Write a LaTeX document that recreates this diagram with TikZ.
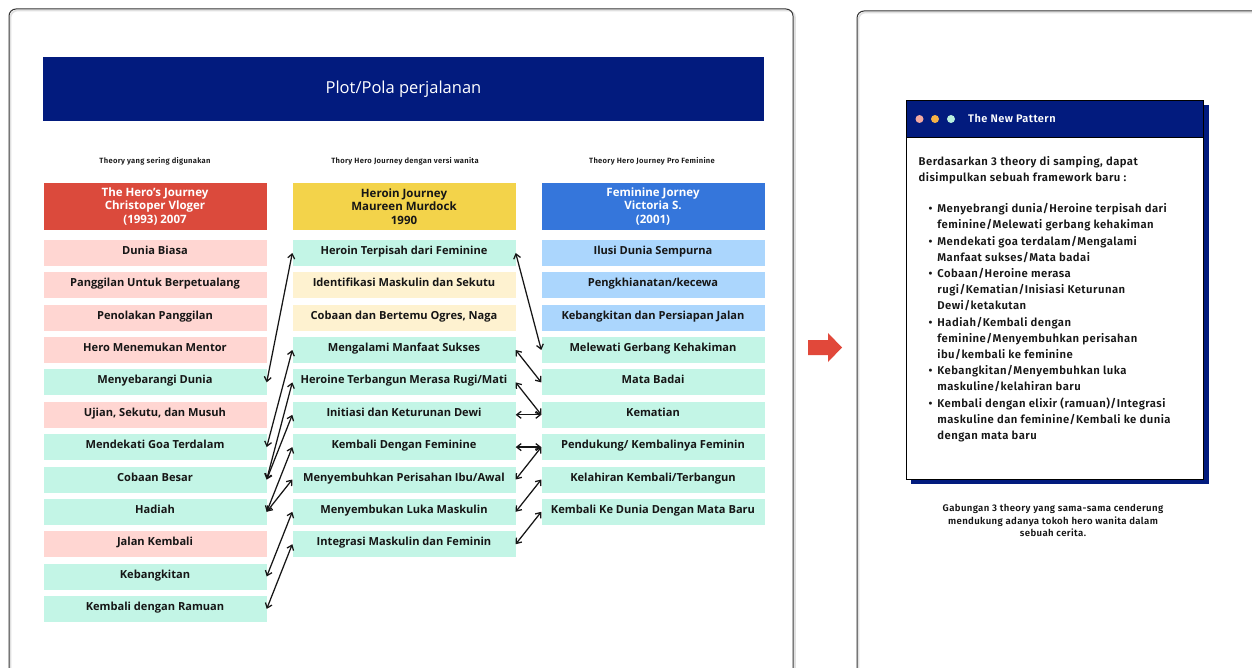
\documentclass[tikz,border=0pt]{standalone}
\usepackage{fontspec}
\setmainfont{Open Sans}
\newfontfamily\cardfont{Fira Sans SemiBold}[LetterSpace=4]
\usepackage{tikz}
\usetikzlibrary{arrows.meta}
\definecolor{plotNavy}{HTML}{021B7E}
\definecolor{heroRed}{HTML}{DB4A3C}
\definecolor{heroinYellow}{HTML}{F3D34A}
\definecolor{femiBlue}{HTML}{3576DB}
\definecolor{rowPink}{HTML}{FFD6D2}
\definecolor{rowMint}{HTML}{C3F5E6}
\definecolor{rowCream}{HTML}{FEF2D0}
\definecolor{rowSky}{HTML}{ABD6FD}
\definecolor{arrowRed}{HTML}{E1483A}
\definecolor{dotPink}{HTML}{F4A9A1}
\definecolor{dotOrange}{HTML}{F6B246}
\definecolor{dotMint}{HTML}{B9F0DE}
\definecolor{inkDark}{HTML}{161616}
\newcommand{\cardBullet}{\makebox[18.7pt][l]{\hspace{10pt}\textbullet}}
\newcommand{\cardIndent}{\hspace*{18.7pt}}
\tikzset{
  stage/.style={minimum width=223pt, minimum height=26pt, inner sep=0pt, text height=6.5pt, text depth=3.5pt, text=inkDark, font=\bfseries\fontsize{11.1}{12}\selectfont},
  pinkRow/.style={stage, fill=rowPink},
  mintRow/.style={stage, fill=rowMint},
  creamRow/.style={stage, fill=rowCream},
  skyRow/.style={stage, fill=rowSky},
  theoryHead/.style={minimum width=223pt, minimum height=47pt, inner sep=0pt, align=center, text=white, font=\bfseries\fontsize{11.5}{13.3}\selectfont},
  theoryNote/.style={text=inkDark, font=\cardfont\fontsize{7.6}{8}\selectfont},
  link/.style={{Straight Barb[length=4.5pt,width=7pt]}-{Straight Barb[length=4.5pt,width=7pt]}, line width=1.25pt, draw=inkDark},
}
\begin{document}
\begin{tikzpicture}[x=1pt, y=-1pt]
\useasboundingbox (0,0) rectangle (1252,668);
\fill[white] (0,0) rectangle (1252,668);
\clip (0,0) rectangle (1252,668);
% the two panels
\draw[rounded corners=7pt, line width=1.6pt, draw=black!12] (10.5,10.5) rectangle (795,720);
\draw[rounded corners=7pt, line width=1pt, draw=black!80] (9,9) rectangle (793,720);
\draw[rounded corners=7pt, line width=1.6pt, draw=black!12] (858.5,12.5) rectangle (1300,720);
\draw[rounded corners=7pt, line width=1pt, draw=black!80] (857,11) rectangle (1300,720);
\node[fill=plotNavy, minimum width=721pt, minimum height=64pt, inner sep=0pt, text=white, font=\fontsize{16.5}{18}\selectfont] (PlotBanner) at (403.5,89) {Plot/Pola perjalanan};
% theory columns
\node[theoryNote] (HeroNote) at (155,161) {Theory yang sering digunakan};
\node[theoryNote] (HeroinNote) at (405,161) {Thory Hero Journey dengan versi wanita};
\node[theoryNote] (FemiNote) at (652,161.5) {Theory Hero Journey Pro Feminine};
\node[theoryHead, fill=heroRed] (HeroHead) at (155,206.5) {The Hero's Journey\\Christoper Vloger\\(1993) 2007};
\node[theoryHead, fill=heroinYellow, text=inkDark] (HeroinHead) at (404,206.5) {Heroin Journey\\Maureen Murdock\\1990};
\node[theoryHead, fill=femiBlue] (FemiHead) at (653,206.5) {Feminine Jorney\\Victoria S.\\(2001)};
\node[pinkRow] (Hero1) at (155,253) {Dunia Biasa};
\node[pinkRow] (Hero2) at (155,285.4) {Panggilan Untuk Berpetualang};
\node[pinkRow] (Hero3) at (155,317.7) {Penolakan Panggilan};
\node[pinkRow] (Hero4) at (155,350) {Hero Menemukan Mentor};
\node[mintRow] (Hero5) at (155,382.4) {Menyebarangi Dunia};
\node[pinkRow] (Hero6) at (155,414.8) {Ujian, Sekutu, dan Musuh};
\node[mintRow] (Hero7) at (155,447.1) {Mendekati Goa Terdalam};
\node[mintRow] (Hero8) at (155,479.5) {Cobaan Besar};
\node[mintRow] (Hero9) at (155,511.8) {Hadiah};
\node[pinkRow] (Hero10) at (155,544.2) {Jalan Kembali};
\node[mintRow] (Hero11) at (155,576.5) {Kebangkitan};
\node[mintRow] (Hero12) at (155,608.9) {Kembali dengan Ramuan};
\node[mintRow] (Heroin1) at (404,253) {Heroin Terpisah dari Feminine};
\node[creamRow] (Heroin2) at (404,285.4) {Identifikasi Maskulin dan Sekutu};
\node[creamRow] (Heroin3) at (404,317.7) {Cobaan dan Bertemu Ogres, Naga};
\node[mintRow] (Heroin4) at (404,350) {Mengalami Manfaat Sukses};
\node[mintRow] (Heroin5) at (404,382.4) {Heroine Terbangun Merasa Rugi/Mati};
\node[mintRow] (Heroin6) at (404,414.8) {Initiasi dan Keturunan Dewi};
\node[mintRow] (Heroin7) at (404,447.1) {Kembali Dengan Feminine};
\node[mintRow] (Heroin8) at (404,479.5) {Menyembuhkan Perisahan Ibu/Awal};
\node[mintRow] (Heroin9) at (404,511.8) {Menyembukan Luka Maskulin};
\node[mintRow] (Heroin10) at (404,544.2) {Integrasi Maskulin dan Feminin};
\node[skyRow] (Femi1) at (653,253) {Ilusi Dunia Sempurna};
\node[skyRow] (Femi2) at (653,285.4) {Pengkhianatan/kecewa};
\node[skyRow] (Femi3) at (653,317.7) {Kebangkitan dan Persiapan Jalan};
\node[mintRow] (Femi4) at (653,350) {Melewati Gerbang Kehakiman};
\node[mintRow] (Femi5) at (653,382.4) {Mata Badai};
\node[mintRow] (Femi6) at (653,414.8) {Kematian};
\node[mintRow] (Femi7) at (653,447.1) {Pendukung/ Kembalinya Feminin};
\node[mintRow] (Femi8) at (653,479.5) {Kelahiran Kembali/Terbangun};
\node[mintRow] (Femi9) at (653,511.8) {Kembali Ke Dunia Dengan Mata Baru};
% links between the stages
\draw[link] (Hero5.east) -- (Heroin1.west);
\draw[link] (Hero7.east) -- (Heroin4.west);
\draw[link] (Hero8.east) -- (Heroin5.west);
\draw[link] (Hero8.east) -- (Heroin6.west);
\draw[link] (Hero9.east) -- (Heroin7.west);
\draw[link] (Hero9.east) -- (Heroin8.west);
\draw[link] (Hero11.east) -- (Heroin9.west);
\draw[link] (Hero12.east) -- (Heroin10.west);
\draw[link] (Heroin1.east) -- (Femi4.west);
\draw[link] (Heroin4.east) -- (Femi5.west);
\draw[link] (Heroin5.east) -- (Femi6.west);
\draw[link] (Heroin6.east) -- (Femi6.west);
\draw[link] (Heroin7.east) -- (Femi7.west);
\draw[link] (Heroin8.east) -- (Femi7.west);
\draw[link] (Heroin9.east) -- (Femi8.west);
\draw[link] (Heroin10.east) -- (Femi9.west);
\fill[arrowRed] (808,340) -- (828,340) -- (828,333) -- (842,347.5) -- (828,362) -- (828,355) -- (808,355) -- cycle;
% the new pattern card
\fill[plotNavy] (911,105) rectangle (1209,484);
\draw[fill=white, line width=0.8pt] (906,100) rectangle (1203,479);
\draw[fill=plotNavy, line width=0.8pt] (906,100) rectangle (1203,137);
\fill[dotPink] (919.5,119) circle (4);
\fill[dotOrange] (935,119) circle (4);
\fill[dotMint] (951,119) circle (4);
\node[anchor=west, inner sep=0pt, text=white, font=\cardfont\fontsize{11}{12}\selectfont] (CardTitle) at (968,118.5) {The New Pattern};
\node[anchor=north west, inner sep=0pt, align=left, text=inkDark, font=\cardfont\fontsize{11.3}{16.2}\selectfont] (CardText) at (918.5,156.5) {Berdasarkan 3 theory di samping, dapat\\
disimpulkan sebuah framework baru :\\[14.5pt]
\cardBullet Menyebrangi dunia/Heroine terpisah dari\\
\cardIndent feminine/Melewati gerbang kehakiman\\
\cardBullet Mendekati goa terdalam/Mengalami\\
\cardIndent Manfaat sukses/Mata badai\\
\cardBullet Cobaan/Heroine merasa\\
\cardIndent rugi/Kematian/Inisiasi Keturunan\\
\cardIndent Dewi/ketakutan\\
\cardBullet Hadiah/Kembali dengan\\
\cardIndent feminine/Menyembuhkan perisahan\\
\cardIndent ibu/kembali ke feminine\\
\cardBullet Kebangkitan/Menyembuhkan luka\\
\cardIndent maskuline/kelahiran baru\\
\cardBullet Kembali dengan elixir (ramuan)/Integrasi\\
\cardIndent maskuline dan feminine/Kembali ke dunia\\
\cardIndent dengan mata baru};
\node[align=center, text=inkDark, font=\cardfont\fontsize{9.6}{12.6}\selectfont] (CardNote) at (1053,520.5) {Gabungan 3 theory yang sama-sama cenderung\\mendukung adanya tokoh hero wanita dalam\\sebuah cerita.};
\end{tikzpicture}
\end{document}
